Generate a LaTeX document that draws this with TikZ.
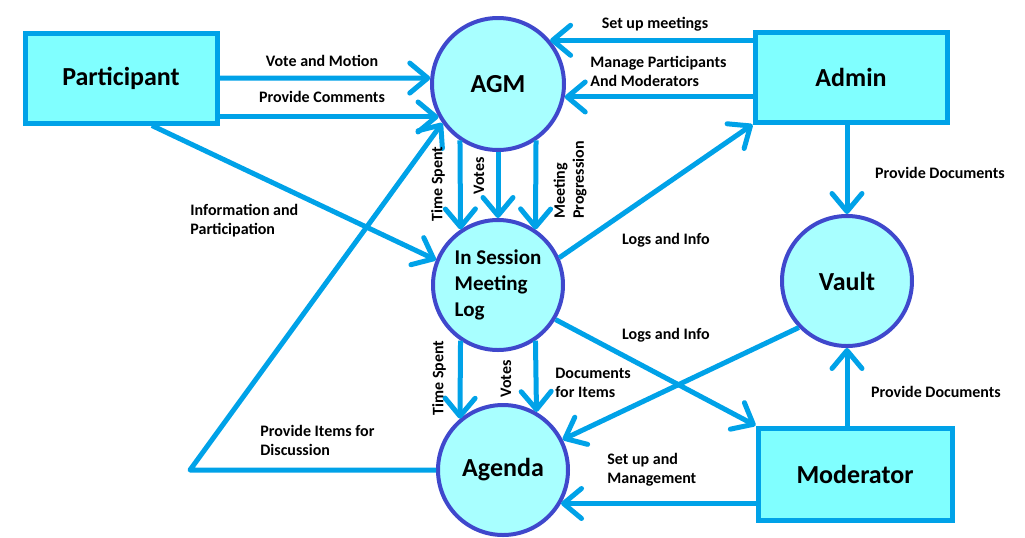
\documentclass[tikz,border=0pt]{standalone}
\usepackage{fontspec}
\setmainfont{Carlito}
\usetikzlibrary{arrows.meta}
\definecolor{flowblue}{HTML}{00A2E8}
\definecolor{rimblue}{HTML}{3F48CC}
\definecolor{boxcyan}{HTML}{80FFFF}
\definecolor{bubblecyan}{HTML}{A8FFFF}

\begin{document}
\begin{tikzpicture}[x=0.5pt,y=-0.5pt,
  entity/.style={draw=flowblue,line width=2.5pt,fill=boxcyan,minimum width=96pt,minimum height=45pt,font=\fontsize{13}{15}\selectfont\bfseries,inner sep=0pt},
  process/.style={circle,draw=rimblue,line width=2pt,fill=bubblecyan,minimum size=65pt,inner sep=0pt,font=\fontsize{13}{15}\selectfont\bfseries},
  flow/.style={draw=flowblue,line width=2.5pt,line join=round,-{Straight Barb[length=9pt,width=15pt,round]}},
  flowlabel/.style={font=\fontsize{8}{9.5}\selectfont\bfseries,inner sep=0pt,align=left}]
\useasboundingbox (0,0) rectangle (1025,537);

\node[entity] (part) at (121,78) {Participant};
\node[entity] (admin) at (851,77) {Admin};
\node[entity,minimum width=97pt,minimum height=46pt] (mod) at (855,474) {Moderator};
\node[process,minimum size=66pt] (agm) at (498,84) {AGM};
\node[process,align=left,font=\fontsize{10.5}{13}\selectfont\bfseries] (sess) at (498,285) {In Session\\Meeting\\Log};
\node[process] (agenda) at (503,470) {Agenda};
\node[process] (vault) at (847,281) {Vault};
\coordinate (bend) at (190,470);

\draw[flow] (part.east) -- (agm.175);
\draw[flow] (part.east |- agm.209) -- (agm.209);
\draw[flow] (part.-57) -- (sess.158);
\draw[flow] (agenda.west) -- (bend) -- (agm.215);
\draw[flow] (agm.236) -- (sess.124);
\draw[flow] (agm.south) -- (sess.north);
\draw[flow] (agm.304) -- (sess.56);
\draw[flow] (admin.west |- agm.40) -- (agm.40);
\draw[flow] (admin.west |- agm.349) -- (agm.349);
\draw[flow] (sess.24) -- (admin.south west);
\draw[flow] (admin.south -| vault.north) -- (vault.north);
\draw[flow] (sess.-31) -- (mod.north west);
\draw[flow] (vault.224) -- (agenda.27);
\draw[flow] (sess.236) -- (agenda.130);
\draw[flow] (sess.304) -- (agenda.60);
\draw[flow] (mod.north -| vault.south) -- (vault.south);
\draw[flow] (mod.west |- agenda.-30) -- (agenda.-30);

\node[flowlabel] (lvote) at (322,61) {Vote and Motion};
\node[flowlabel] (lcomm) at (322,97) {Provide Comments};
\node[flowlabel,anchor=west] (linfo) at (190,221) {Information and\\Participation};
\node[flowlabel,anchor=west] (litems) at (260,440) {Provide Items for\\Discussion};
\node[flowlabel,rotate=90] (ltime1) at (438,184) {Time Spent};
\node[flowlabel,rotate=90] (lvotes1) at (479,176) {Votes};
\node[flowlabel,rotate=90] (lprog) at (570,180) {Meeting\\Progression};
\node[flowlabel] (lsetup) at (655,24) {Set up meetings};
\node[flowlabel,anchor=west] (lmanage) at (590,71) {Manage Participants\\And Moderators};
\node[flowlabel] (llogs1) at (666,240) {Logs and Info};
\node[flowlabel] (ldocs1) at (940,173) {Provide Documents};
\node[flowlabel] (llogs2) at (666,335) {Logs and Info};
\node[flowlabel,rotate=90] (ltime2) at (439,378) {Time Spent};
\node[flowlabel,rotate=90] (lvotes2) at (506,379) {Votes};
\node[flowlabel,anchor=west] (litemdocs) at (555,383) {Documents\\for Items};
\node[flowlabel] (ldocs2) at (936,392) {Provide Documents};
\node[flowlabel,anchor=west] (lsetmgmt) at (607,470) {Set up and\\Management};
\end{tikzpicture}
\end{document}
